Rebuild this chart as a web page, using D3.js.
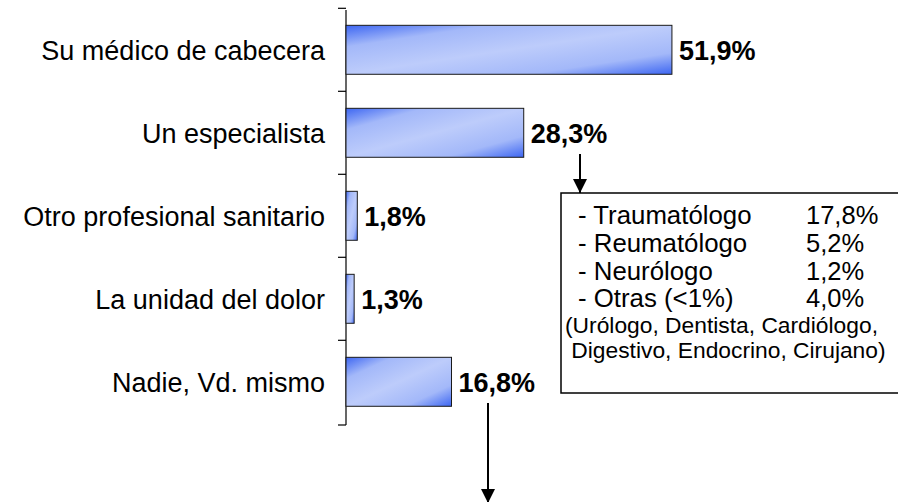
<!DOCTYPE html>
<html>
<head>
<meta charset="utf-8">
<script src="https://cdn.jsdelivr.net/npm/d3@7"></script>
<style>
  body { margin: 0; background: #fff; }
  svg text { font-family: Arial, "Liberation Sans", Helvetica, sans-serif; fill: #000; }
</style>
</head>
<body>
<svg id="chart" width="898" height="502"></svg>
<script>
// data
const categories = ['Su médico de cabecera', 'Un especialista', 'Otro profesional sanitario', 'La unidad del dolor', 'Nadie, Vd. mismo'];
const values = [51.9, 28.3, 1.8, 1.3, 16.8];
const specialists = ['- Traumatólogo', '- Reumatólogo', '- Neurólogo', '- Otras (<1%)'];
const specialistValues = [17.8, 5.2, 1.2, 4.0];
const otherNote = ['(Urólogo, Dentista, Cardiólogo,', ' Digestivo, Endocrino, Cirujano)'];

const fmt = v => d3.format('.1f')(v).replace('.', ',') + '%';

let svg = d3.select('#chart'),
    cs = {
        axisX: 346,
        top: 10,
        bottom: 425,
        pxPerPct: 6.28,
        tick: 8,
        font: 27,
        box: { x: 561, y: 193, w: 340, h: 200 }
    };

let defs = svg.append('defs');
let grad = defs.append('linearGradient')
    .attr('id', 'barFill')
    .attr('x1', 0).attr('y1', 0).attr('x2', 1).attr('y2', 1);
[[0, '#3d66f2'], [0.22, '#a3b8f9'], [0.5, '#bdccfb'], [0.78, '#a3b8f9'], [1, '#3d66f2']]
    .forEach(s => grad.append('stop').attr('offset', s[0]).attr('stop-color', s[1]));

defs.append('marker')
    .attr('id', 'arrow')
    .attr('viewBox', '0 0 10 10')
    .attr('refX', 10).attr('refY', 5)
    .attr('markerWidth', 14).attr('markerHeight', 14)
    .attr('markerUnits', 'userSpaceOnUse')
    .attr('orient', 'auto')
    .append('path').attr('d', 'M0,0 L10,5 L0,10 Z').attr('fill', '#000');

let x = d3.scaleLinear()
    .domain([0, 100])
    .range([cs.axisX, cs.axisX + 100 * cs.pxPerPct]);

let y = d3.scaleBand()
    .domain(categories)
    .range([cs.top, cs.bottom])
    .paddingInner(0.41)
    .paddingOuter(0.205)
    .align(0.45);

// axis line with ticks on the band boundaries
let bounds = categories.map(c => y(c) - y.step() * y.paddingInner() / 2);
bounds.push(cs.bottom);
let axis = svg.append('g').attr('class', 'axis');
axis.append('line')
    .attr('x1', cs.axisX).attr('x2', cs.axisX)
    .attr('y1', cs.top).attr('y2', cs.bottom)
    .attr('stroke', '#000').attr('stroke-width', 1.2);
axis.selectAll('.tick').data(bounds).enter()
    .append('line')
    .attr('class', 'tick')
    .attr('x1', cs.axisX - cs.tick).attr('x2', cs.axisX)
    .attr('y1', d => d).attr('y2', d => d)
    .attr('stroke', '#000').attr('stroke-width', 1.2);

// category labels
svg.selectAll('.cat').data(categories).enter()
    .append('text')
    .attr('class', 'cat')
    .attr('x', 325)
    .attr('y', d => y(d) + y.bandwidth() / 2)
    .attr('dy', '0.36em')
    .attr('text-anchor', 'end')
    .attr('font-size', cs.font)
    .text(d => d);

// bars
svg.selectAll('rect.bar').data(values).enter()
    .append('rect')
    .attr('class', 'bar')
    .attr('x', x(0))
    .attr('y', (d, i) => y(categories[i]))
    .attr('width', d => x(d) - x(0))
    .attr('height', y.bandwidth())
    .attr('fill', 'url(#barFill)')
    .attr('stroke', '#1a1a1a')
    .attr('stroke-width', 1);

// value labels
svg.selectAll('.val').data(values).enter()
    .append('text')
    .attr('class', 'val')
    .attr('x', d => x(d) + 7)
    .attr('y', (d, i) => y(categories[i]) + y.bandwidth() / 2)
    .attr('dy', '0.36em')
    .attr('font-size', cs.font)
    .attr('font-weight', 'bold')
    .text(d => fmt(d));

// arrow from "Un especialista" down to the breakdown box
svg.append('line')
    .attr('x1', 580).attr('x2', 580)
    .attr('y1', 154).attr('y2', cs.box.y)
    .attr('stroke', '#000').attr('stroke-width', 2)
    .attr('marker-end', 'url(#arrow)');

// arrow from "Nadie, Vd. mismo" down off the page
svg.append('line')
    .attr('x1', 488).attr('x2', 488)
    .attr('y1', 403).attr('y2', 503)
    .attr('stroke', '#000').attr('stroke-width', 2)
    .attr('marker-end', 'url(#arrow)');

// breakdown box
let box = svg.append('g').attr('class', 'box');
box.append('rect')
    .attr('x', cs.box.x).attr('y', cs.box.y)
    .attr('width', cs.box.w).attr('height', cs.box.h)
    .attr('fill', '#fff')
    .attr('stroke', '#000').attr('stroke-width', 1.5);

box.selectAll('.spec').data(specialists).enter()
    .append('text')
    .attr('class', 'spec')
    .attr('x', 578)
    .attr('y', (d, i) => 224 + i * 27.8)
    .attr('font-size', 25.8)
    .text(d => d);

box.selectAll('.specVal').data(specialistValues).enter()
    .append('text')
    .attr('class', 'specVal')
    .attr('x', 806)
    .attr('y', (d, i) => 224 + i * 27.8)
    .attr('font-size', 25.5)
    .text(d => fmt(d));

box.selectAll('.note').data(otherNote).enter()
    .append('text')
    .attr('class', 'note')
    .attr('x', 565)
    .attr('y', (d, i) => 333 + i * 25)
    .attr('font-size', 22.8)
    .attr('xml:space', 'preserve')
    .style('white-space', 'pre')
    .text(d => d);
</script>
</body>
</html>
